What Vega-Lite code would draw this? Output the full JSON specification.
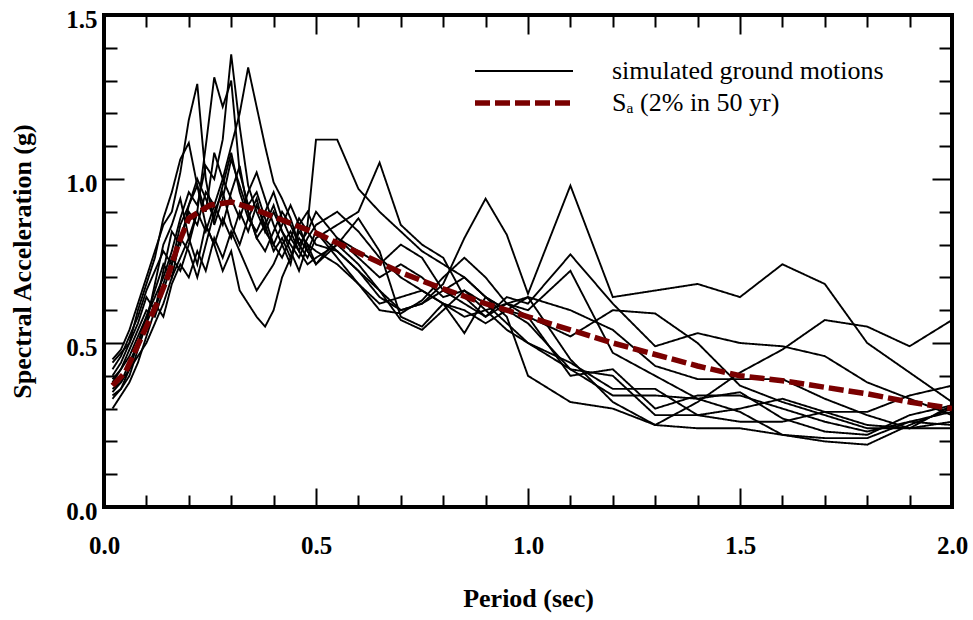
{
  "$schema": "https://vega.github.io/schema/vega-lite/v6.json",
  "width": 848,
  "height": 492,
  "autosize": {"type": "none"},
  "padding": {"left": 104, "top": 15, "right": 21, "bottom": 113},
  "background": "white",
  "config": {
    "view": {"stroke": "black", "strokeWidth": 4},
    "font": "Liberation Serif",
    "axis": {
      "domain": false, "grid": false, "tickColor": "black", "tickWidth": 2,
      "labelFont": "Liberation Serif", "labelFontWeight": "bold", "labelFontSize": 25, "labelColor": "black",
      "titleFont": "Liberation Serif", "titleFontWeight": "bold", "titleFontSize": 26, "titleColor": "black",
      "labelOverlap": false, "labelFlush": false, "labelBound": false
    },
    "legend": {
      "orient": "none", "legendX": 368, "legendY": 40, "padding": 0,
      "symbolType": "stroke", "symbolSize": 9604, "symbolStrokeWidth": 3,
      "labelFont": "Liberation Serif", "labelFontSize": 26, "labelFontWeight": "normal", "labelColor": "black",
      "labelOffset": 36, "clipHeight": 32, "rowPadding": 0, "labelLimit": 400
    }
  },
  "datasets": {
    "motions": [
      {"T":0.02,"m1":0.34,"m2":0.40,"m3":0.45,"m4":0.33,"m5":0.38,"m6":0.30,"m7":0.42,"m8":0.36,"m9":0.44,"m10":0.39,"m11":0.35},
      {"T":0.04,"m1":0.36,"m2":0.44,"m3":0.48,"m4":0.36,"m5":0.42,"m6":0.34,"m7":0.46,"m8":0.38,"m9":0.47,"m10":0.42,"m11":0.38},
      {"T":0.06,"m1":0.42,"m2":0.50,"m3":0.54,"m4":0.40,"m5":0.46,"m6":0.38,"m7":0.52,"m8":0.42,"m9":0.50,"m10":0.48,"m11":0.44},
      {"T":0.08,"m1":0.50,"m2":0.56,"m3":0.62,"m4":0.48,"m5":0.52,"m6":0.44,"m7":0.58,"m8":0.46,"m9":0.60,"m10":0.54,"m11":0.50},
      {"T":0.10,"m1":0.58,"m2":0.64,"m3":0.70,"m4":0.56,"m5":0.58,"m6":0.52,"m7":0.66,"m8":0.50,"m9":0.68,"m10":0.60,"m11":0.56},
      {"T":0.12,"m1":0.64,"m2":0.60,"m3":0.78,"m4":0.68,"m5":0.66,"m6":0.60,"m7":0.72,"m8":0.56,"m9":0.76,"m10":0.58,"m11":0.62},
      {"T":0.14,"m1":0.70,"m2":0.72,"m3":0.86,"m4":0.80,"m5":0.74,"m6":0.68,"m7":0.78,"m8":0.62,"m9":0.88,"m10":0.66,"m11":0.58},
      {"T":0.16,"m1":0.78,"m2":0.84,"m3":0.90,"m4":0.86,"m5":0.70,"m6":0.76,"m7":0.74,"m8":0.70,"m9":0.96,"m10":0.74,"m11":0.68},
      {"T":0.18,"m1":0.88,"m2":0.80,"m3":1.02,"m4":0.94,"m5":0.82,"m6":0.72,"m7":0.86,"m8":0.76,"m9":1.06,"m10":0.82,"m11":0.74},
      {"T":0.20,"m1":0.96,"m2":0.92,"m3":1.18,"m4":0.82,"m5":0.90,"m6":0.80,"m7":0.92,"m8":0.82,"m9":1.11,"m10":0.78,"m11":0.70},
      {"T":0.22,"m1":0.92,"m2":0.98,"m3":1.29,"m4":0.90,"m5":0.86,"m6":0.90,"m7":1.00,"m8":0.74,"m9":0.98,"m10":0.70,"m11":0.78},
      {"T":0.24,"m1":1.04,"m2":0.90,"m3":1.00,"m4":1.10,"m5":0.96,"m6":0.84,"m7":0.94,"m8":0.86,"m9":0.86,"m10":0.80,"m11":0.72},
      {"T":0.26,"m1":1.00,"m2":1.08,"m3":0.86,"m4":1.31,"m5":0.92,"m6":0.92,"m7":0.88,"m8":0.80,"m9":0.80,"m10":0.90,"m11":0.82},
      {"T":0.28,"m1":1.12,"m2":1.00,"m3":0.94,"m4":1.22,"m5":1.00,"m6":0.86,"m7":0.98,"m8":0.72,"m9":0.88,"m10":0.96,"m11":0.76},
      {"T":0.30,"m1":1.38,"m2":1.10,"m3":1.06,"m4":1.30,"m5":0.94,"m6":0.96,"m7":1.08,"m8":0.78,"m9":0.82,"m10":0.86,"m11":0.84},
      {"T":0.32,"m1":1.16,"m2":1.20,"m3":0.98,"m4":1.02,"m5":0.88,"m6":1.04,"m7":0.96,"m8":0.66,"m9":0.90,"m10":0.80,"m11":0.78},
      {"T":0.34,"m1":0.98,"m2":1.34,"m3":0.90,"m4":0.92,"m5":0.96,"m6":0.90,"m7":0.88,"m8":0.62,"m9":0.84,"m10":0.88,"m11":0.72},
      {"T":0.36,"m1":0.90,"m2":1.22,"m3":0.82,"m4":0.96,"m5":1.02,"m6":0.82,"m7":0.84,"m8":0.58,"m9":0.92,"m10":0.94,"m11":0.66},
      {"T":0.38,"m1":0.84,"m2":1.10,"m3":0.86,"m4":0.88,"m5":0.94,"m6":0.78,"m7":0.90,"m8":0.55,"m9":0.86,"m10":0.84,"m11":0.70},
      {"T":0.40,"m1":0.80,"m2":0.99,"m3":0.92,"m4":0.80,"m5":0.86,"m6":0.84,"m7":0.96,"m8":0.60,"m9":0.78,"m10":0.90,"m11":0.74},
      {"T":0.42,"m1":0.76,"m2":0.94,"m3":0.84,"m4":0.86,"m5":0.80,"m6":0.90,"m7":0.88,"m8":0.70,"m9":0.82,"m10":0.84,"m11":0.80},
      {"T":0.44,"m1":0.82,"m2":0.88,"m3":0.80,"m4":0.92,"m5":0.84,"m6":0.86,"m7":0.82,"m8":0.76,"m9":0.76,"m10":0.78,"m11":0.74},
      {"T":0.46,"m1":0.88,"m2":0.80,"m3":0.76,"m4":0.86,"m5":0.78,"m6":0.80,"m7":0.78,"m8":0.82,"m9":0.84,"m10":0.72,"m11":0.86},
      {"T":0.48,"m1":0.84,"m2":0.84,"m3":0.82,"m4":0.78,"m5":0.86,"m6":0.76,"m7":0.74,"m8":0.78,"m9":0.80,"m10":0.80,"m11":0.90},
      {"T":0.50,"m1":0.80,"m2":0.90,"m3":0.86,"m4":0.74,"m5":1.12,"m6":0.82,"m7":0.76,"m8":0.84,"m9":0.78,"m10":0.74,"m11":0.84},
      {"T":0.55,"m1":0.78,"m2":0.82,"m3":0.90,"m4":0.80,"m5":1.12,"m6":0.86,"m7":0.80,"m8":0.76,"m9":0.74,"m10":0.82,"m11":0.78},
      {"T":0.60,"m1":0.72,"m2":0.78,"m3":0.84,"m4":0.88,"m5":0.97,"m6":0.90,"m7":0.74,"m8":0.68,"m9":0.68,"m10":0.76,"m11":0.72},
      {"T":0.65,"m1":0.64,"m2":0.74,"m3":0.76,"m4":0.78,"m5":0.90,"m6":1.05,"m7":0.66,"m8":0.62,"m9":0.60,"m10":0.70,"m11":0.66},
      {"T":0.70,"m1":0.60,"m2":0.80,"m3":0.70,"m4":0.58,"m5":0.84,"m6":0.86,"m7":0.60,"m8":0.64,"m9":0.59,"m10":0.74,"m11":0.57},
      {"T":0.75,"m1":0.62,"m2":0.76,"m3":0.66,"m4":0.55,"m5":0.78,"m6":0.80,"m7":0.62,"m8":0.66,"m9":0.63,"m10":0.70,"m11":0.54},
      {"T":0.80,"m1":0.66,"m2":0.66,"m3":0.62,"m4":0.62,"m5":0.74,"m6":0.76,"m7":0.68,"m8":0.62,"m9":0.70,"m10":0.64,"m11":0.60},
      {"T":0.85,"m1":0.70,"m2":0.62,"m3":0.60,"m4":0.58,"m5":0.70,"m6":0.64,"m7":0.82,"m8":0.53,"m9":0.76,"m10":0.66,"m11":0.66},
      {"T":0.90,"m1":0.64,"m2":0.58,"m3":0.56,"m4":0.60,"m5":0.64,"m6":0.58,"m7":0.94,"m8":0.64,"m9":0.70,"m10":0.60,"m11":0.62},
      {"T":0.95,"m1":0.60,"m2":0.64,"m3":0.60,"m4":0.54,"m5":0.60,"m6":0.62,"m7":0.83,"m8":0.58,"m9":0.62,"m10":0.62,"m11":0.56},
      {"T":1.00,"m1":0.58,"m2":0.62,"m3":0.64,"m4":0.50,"m5":0.56,"m6":0.64,"m7":0.65,"m8":0.40,"m9":0.60,"m10":0.58,"m11":0.50},
      {"T":1.10,"m1":0.52,"m2":0.77,"m3":0.60,"m4":0.44,"m5":0.42,"m6":0.45,"m7":0.98,"m8":0.32,"m9":0.72,"m10":0.40,"m11":0.42},
      {"T":1.20,"m1":0.60,"m2":0.62,"m3":0.54,"m4":0.36,"m5":0.34,"m6":0.32,"m7":0.64,"m8":0.30,"m9":0.47,"m10":0.42,"m11":0.40},
      {"T":1.30,"m1":0.59,"m2":0.49,"m3":0.43,"m4":0.36,"m5":0.34,"m6":0.25,"m7":0.66,"m8":0.25,"m9":0.40,"m10":0.30,"m11":0.28},
      {"T":1.40,"m1":0.50,"m2":0.53,"m3":0.39,"m4":0.28,"m5":0.33,"m6":0.24,"m7":0.68,"m8":0.32,"m9":0.33,"m10":0.34,"m11":0.28},
      {"T":1.50,"m1":0.37,"m2":0.50,"m3":0.39,"m4":0.26,"m5":0.35,"m6":0.24,"m7":0.64,"m8":0.41,"m9":0.29,"m10":0.34,"m11":0.30},
      {"T":1.60,"m1":0.32,"m2":0.49,"m3":0.39,"m4":0.26,"m5":0.27,"m6":0.22,"m7":0.74,"m8":0.48,"m9":0.22,"m10":0.30,"m11":0.33},
      {"T":1.70,"m1":0.28,"m2":0.46,"m3":0.33,"m4":0.29,"m5":0.23,"m6":0.20,"m7":0.68,"m8":0.57,"m9":0.21,"m10":0.26,"m11":0.29},
      {"T":1.80,"m1":0.24,"m2":0.38,"m3":0.28,"m4":0.29,"m5":0.22,"m6":0.19,"m7":0.50,"m8":0.55,"m9":0.21,"m10":0.23,"m11":0.25},
      {"T":1.90,"m1":0.24,"m2":0.33,"m3":0.24,"m4":0.34,"m5":0.28,"m6":0.25,"m7":0.41,"m8":0.49,"m9":0.26,"m10":0.26,"m11":0.24},
      {"T":2.00,"m1":0.31,"m2":0.28,"m3":0.24,"m4":0.37,"m5":0.31,"m6":0.30,"m7":0.32,"m8":0.57,"m9":0.29,"m10":0.25,"m11":0.26}
    ],
    "sa": [
      {"T":0.02,"Sa":0.37},{"T":0.05,"Sa":0.41},{"T":0.075,"Sa":0.48},{"T":0.1,"Sa":0.55},
      {"T":0.125,"Sa":0.62},{"T":0.15,"Sa":0.70},{"T":0.175,"Sa":0.80},{"T":0.2,"Sa":0.88},
      {"T":0.25,"Sa":0.92},{"T":0.3,"Sa":0.93},{"T":0.35,"Sa":0.91},{"T":0.4,"Sa":0.885},
      {"T":0.45,"Sa":0.86},{"T":0.5,"Sa":0.835},{"T":0.6,"Sa":0.775},{"T":0.7,"Sa":0.715},
      {"T":0.8,"Sa":0.665},{"T":0.9,"Sa":0.62},{"T":1.0,"Sa":0.58},{"T":1.1,"Sa":0.54},
      {"T":1.2,"Sa":0.50},{"T":1.3,"Sa":0.465},{"T":1.4,"Sa":0.43},{"T":1.5,"Sa":0.40},
      {"T":1.6,"Sa":0.385},{"T":1.7,"Sa":0.365},{"T":1.8,"Sa":0.345},{"T":1.9,"Sa":0.32},{"T":2.0,"Sa":0.30}
    ]
  },
  "layer": [
    {
      "data": {"name": "motions"},
      "transform": [{"fold": ["m1","m2","m3","m4","m5","m6","m7","m8","m9","m10","m11"], "as": ["motion", "Sa"]}],
      "mark": {"type": "line", "clip": true, "strokeJoin": "miter"},
      "encoding": {
        "x": {"field": "T", "type": "quantitative",
          "scale": {"domain": [0, 2], "nice": false, "zero": false},
          "axis": {"orient": "bottom",
            "values": [0,0.1,0.2,0.3,0.4,0.5,0.6,0.7,0.8,0.9,1.0,1.1,1.2,1.3,1.4,1.5,1.6,1.7,1.8,1.9,2.0],
            "tickSize": {"condition": {"test": "abs(datum.value*2 - round(datum.value*2)) < 0.001", "value": -19}, "value": -12},
            "labelExpr": "abs(datum.value*2 - round(datum.value*2)) < 0.001 ? format(datum.value, '.1f') : ''",
            "labelPadding": 45, "labelBaseline": "top",
            "title": "Period (sec)", "titleY": 99, "titleBaseline": "alphabetic"}},
        "y": {"field": "Sa", "type": "quantitative",
          "scale": {"domain": [0, 1.5], "nice": false},
          "axis": {"orient": "left",
            "values": [0,0.1,0.2,0.3,0.4,0.5,0.6,0.7,0.8,0.9,1.0,1.1,1.2,1.3,1.4,1.5],
            "tickSize": {"condition": {"test": "abs(datum.value*2 - round(datum.value*2)) < 0.001", "value": -20}, "value": -13},
            "labelExpr": "abs(datum.value*2 - round(datum.value*2)) < 0.001 ? format(datum.value, '.1f') : ''",
            "labelPadding": 27, "labelOffset": 4,
            "title": "Spectral Acceleration (g)", "titleX": -82, "titleBaseline": "middle"}},
        "detail": {"field": "motion", "type": "nominal"},
        "color": {"datum": "simulated ground motions", "type": "nominal",
          "scale": {"domain": ["simulated ground motions", "Sₐ (2% in 50 yr)"], "range": ["black", "#7a0000"]},
          "legend": {"title": null}},
        "strokeDash": {"datum": "simulated ground motions", "type": "nominal",
          "scale": {"domain": ["simulated ground motions", "Sₐ (2% in 50 yr)"], "range": [[1, 0], [15, 5]]},
          "legend": {"title": null}},
        "strokeWidth": {"datum": "simulated ground motions", "type": "nominal",
          "scale": {"domain": ["simulated ground motions", "Sₐ (2% in 50 yr)"], "range": [1.9, 5.5]},
          "legend": {"title": null}}
      }
    },
    {
      "data": {"name": "sa"},
      "mark": {"type": "line", "clip": true, "strokeCap": "butt"},
      "encoding": {
        "x": {"field": "T", "type": "quantitative",
          "scale": {"domain": [0, 2], "nice": false, "zero": false},
          "axis": {"orient": "top",
            "values": [0,0.1,0.2,0.3,0.4,0.5,0.6,0.7,0.8,0.9,1.0,1.1,1.2,1.3,1.4,1.5,1.6,1.7,1.8,1.9,2.0],
            "tickSize": {"condition": {"test": "abs(datum.value*2 - round(datum.value*2)) < 0.001", "value": -19}, "value": -12},
            "labels": false, "title": null}},
        "y": {"field": "Sa", "type": "quantitative",
          "scale": {"domain": [0, 1.5], "nice": false},
          "axis": {"orient": "right",
            "values": [0,0.1,0.2,0.3,0.4,0.5,0.6,0.7,0.8,0.9,1.0,1.1,1.2,1.3,1.4,1.5],
            "tickSize": {"condition": {"test": "abs(datum.value*2 - round(datum.value*2)) < 0.001", "value": -20}, "value": -13},
            "labels": false, "title": null}},
        "color": {"datum": "Sₐ (2% in 50 yr)", "type": "nominal"},
        "strokeDash": {"datum": "Sₐ (2% in 50 yr)", "type": "nominal"},
        "strokeWidth": {"datum": "Sₐ (2% in 50 yr)", "type": "nominal"}
      }
    }
  ],
  "resolve": {"axis": {"x": "independent", "y": "independent"}}
}
